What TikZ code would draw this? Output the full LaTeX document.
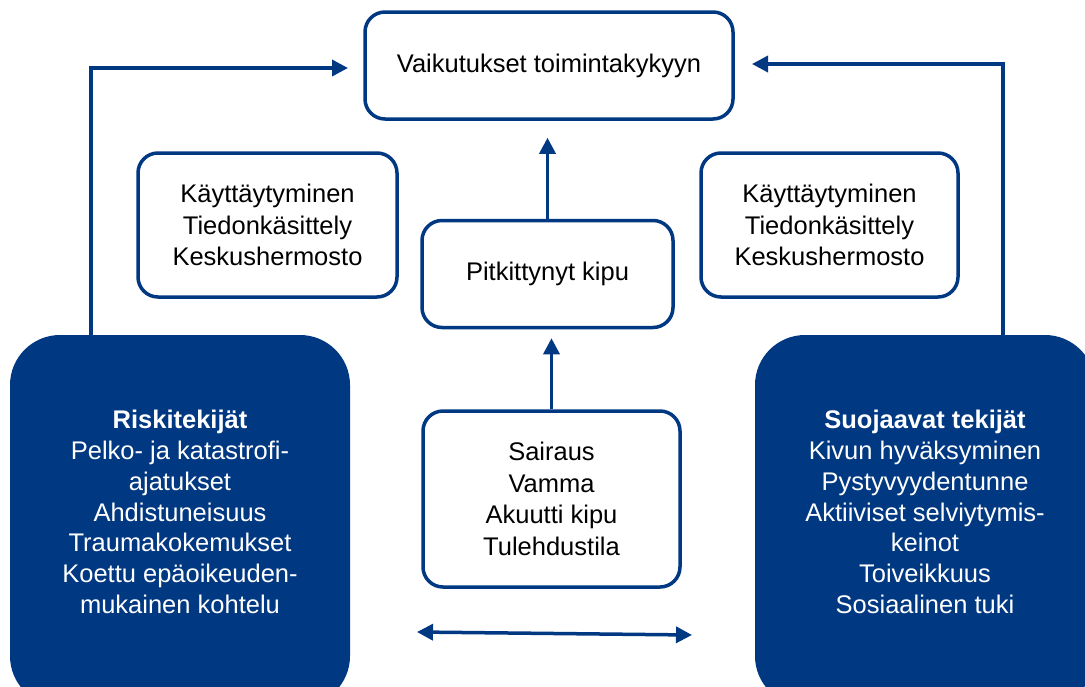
\documentclass[tikz,border=0pt]{standalone}
\usepackage{fontspec}
\setmainfont{Liberation Sans}
\usetikzlibrary{arrows.meta, positioning, calc}
\definecolor{darkblue}{RGB}{0,56,130}

\begin{document}
\begin{tikzpicture}[x=1pt, y=-1pt,
    whitebox/.style={draw=darkblue, line width=3.5pt, rounded corners=20pt, fill=white,
      align=center, font=\fontsize{25.5}{31.5}\selectfont},
    bluebox/.style={fill=darkblue, rounded corners=50pt, minimum width=340pt, minimum height=371pt},
    bluetext/.style={text=white, align=center, font=\fontsize{25.5}{30.8}\selectfont},
    link/.style={draw=darkblue, line width=3.5pt, -{Triangle[length=16pt,width=16pt]}}]
  % page frame
  \clip (0,0) rectangle (1085,686);

  % boxes on top and in the middle
  \node[whitebox, minimum width=368pt, minimum height=107pt] (effect) at (549,65.5) {Vaikutukset toimintakykyyn};
  \node[whitebox, minimum width=259pt, minimum height=144pt] (lefttask) at (267.5,225) {Käyttäytyminen\\Tiedonkäsittely\\Keskushermosto};
  \node[whitebox, minimum width=257pt, minimum height=144pt] (righttask) at (829.5,225) {Käyttäytyminen\\Tiedonkäsittely\\Keskushermosto};
  \node[whitebox, minimum width=251pt, minimum height=107pt] (chronic) at (547.5,274) {Pitkittynyt kipu};
  \node[whitebox, minimum width=257pt, minimum height=176pt] (cause) at (551.5,499) {Sairaus\\Vamma\\Akuutti kipu\\Tulehdustila};

  % filled boxes at the sides
  \node[bluebox] (risk) at (180,520.5) {};
  \node[bluetext] (risktext) at (180,512) {\textbf{Riskitekijät}\\Pelko- ja katastrofi-\\ajatukset\\Ahdistuneisuus\\Traumakokemukset\\Koettu epäoikeuden-\\mukainen kohtelu};
  \node[bluebox] (safe) at (925,520.5) {};
  \node[bluetext] (safetext) at (925,512) {\textbf{Suojaavat tekijät}\\Kivun hyväksyminen\\Pystyvyydentunne\\Aktiiviset selviytymis-\\keinot\\Toiveikkuus\\Sosiaalinen tuki};

  % connectors
  \coordinate (lefttip) at (348,68);
  \coordinate (righttip) at (752,64);
  \coordinate (bothleft) at (417,632);
  \coordinate (bothright) at (692,635);
  \draw[link] ([xshift=-89pt]risk.north) |- (lefttip);
  \draw[link] ([xshift=78pt]safe.north) |- (righttip);
  \draw[link, shorten >=9pt] (cause.north) -- (cause.north |- chronic.south);
  \draw[link, shorten >=17pt] (chronic.north) -- (chronic.north |- effect.south);
  \draw[link, {Triangle[length=16pt,width=16pt]}-{Triangle[length=16pt,width=16pt]}] (bothleft) -- (bothright);
\end{tikzpicture}
\end{document}
